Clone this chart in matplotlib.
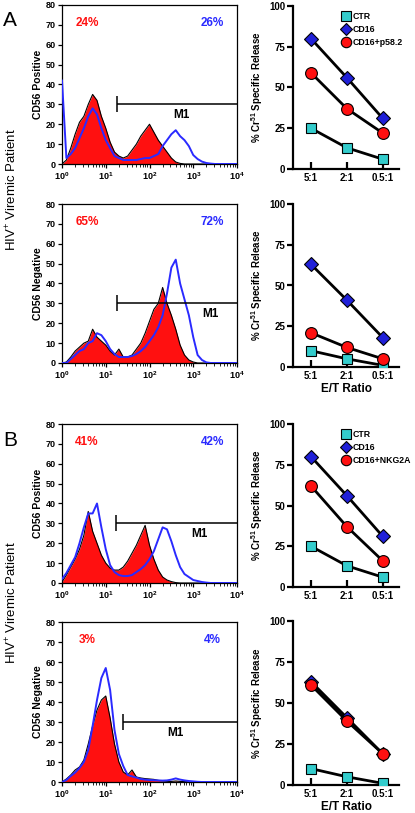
import numpy as np
import matplotlib
matplotlib.use('Agg')
import matplotlib.pyplot as plt
from matplotlib.lines import Line2D
from matplotlib.ticker import FixedLocator, FixedFormatter, LogLocator, NullFormatter

plt.rcParams['font.family'] = ['Liberation Sans', 'DejaVu Sans']
plt.rcParams['mathtext.fontset'] = 'custom'
plt.rcParams['mathtext.rm'] = 'Liberation Sans'
plt.rcParams['mathtext.bf'] = 'Liberation Sans:bold'
plt.rcParams['mathtext.it'] = 'Liberation Sans:italic'

W, H = 415, 813

# ---- flow cytometry histograms: counts every 0.1 decade from 10^0 to 10^4
decades = np.round(np.arange(0, 4.01, 0.1), 2)

# panel A, CD56 positive
a_pos_red = [0, 2, 8, 15, 21, 24, 30, 35, 32, 24, 18, 11, 6, 4, 3, 4, 7, 10, 14, 17, 20,
             16, 12, 9, 6, 3, 1, 0.3, 0, 0, 0, 0, 0, 0, 0, 0, 0, 0, 0, 0, 0]
a_pos_blue = [42, 3, 5, 8, 13, 18, 24, 28, 25, 18, 12, 8, 4, 3, 2, 2, 2, 2, 2.5, 3, 3,
              4, 5, 9, 12, 15, 17, 14, 12, 9, 4.5, 2.5, 1.2, 0.5, 0.2, 0, 0, 0, 0, 0, 0]
# panel A, CD56 negative
a_neg_red = [0, 0.5, 3, 6, 8, 10, 11, 17, 13, 11, 9, 6, 4, 7, 3, 3, 4, 7, 10, 15, 21,
             27, 30, 38, 30, 24, 17, 9, 4, 1.5, 0.5, 0, 0, 0, 0, 0, 0, 0, 0, 0, 0]
a_neg_blue = [0, 0, 2, 4, 6, 7, 10, 11, 15, 14, 11, 7, 4.5, 3, 3, 3, 3.5, 4.5, 6, 8, 11,
              14, 18, 24, 35, 48, 52, 40, 32, 24, 13, 4, 1.5, 0.3, 0, 0, 0, 0, 0, 0, 0]
# panel B, CD56 positive
b_pos_red = [0.5, 4, 8, 12, 17, 24, 36, 26, 20, 14, 10, 7.5, 6.5, 6.5, 8, 11, 15, 19, 24, 29, 19,
             12, 6.5, 3, 1.5, 0.7, 0.2, 0, 0, 0, 0, 0, 0, 0, 0, 0, 0, 0, 0, 0, 0]
b_pos_blue = [2, 5, 9, 13, 20, 28, 35, 35, 40, 28, 17, 9, 5.5, 4, 3.5, 3.5, 4, 5.5, 7, 9, 12,
              16, 22, 28, 27, 21, 14, 8, 4.5, 3, 1.5, 1, 0.5, 0.2, 0, 0, 0, 0, 0, 0, 0]
# panel B, CD56 negative
b_neg_red = [0, 1.5, 3.5, 6, 7.5, 11, 19, 28, 36, 41, 43, 32, 19, 10, 5, 3.5, 6, 2.5, 2, 1.7, 1.5,
             1.3, 0.8, 0.5, 0.3, 0.3, 0.5, 0.3, 0.2, 0.1, 0, 0, 0, 0, 0, 0, 0, 0, 0, 0, 0]
b_neg_blue = [0, 1, 3, 4.7, 7, 10, 16, 28, 41, 52, 57, 46, 26, 14, 8, 3.5, 2.8, 2.2, 1.5, 1.2, 1,
              0.9, 0.8, 0.7, 0.8, 1.2, 1.8, 1.2, 0.8, 0.5, 0.3, 0.1, 0, 0, 0, 0, 0, 0, 0, 0, 0]

hist_pct = [('24%', '26%'), ('65%', '72%'), ('41%', '42%'), ('3%', '4%')]
hist_ylabels = ['CD56 Positive', 'CD56 Negative', 'CD56 Positive', 'CD56 Negative']
m1_start = [10 ** 1.26, 10 ** 1.26, 10 ** 1.23, 10 ** 1.39]
m1_text_x = [10 ** 2.72, 10 ** 3.4, 10 ** 3.14, 10 ** 2.6]

# ---- 51Cr release assays
ratios = ['5:1', '2:1', '0.5:1']
a_top_ctr = [25, 13, 6]
a_top_cd16 = [80, 56, 31]
a_top_mix = [59, 37, 22]
a_bot_ctr = [10, 5, 1]
a_bot_cd16 = [63, 41, 18]
a_bot_mix = [21, 12, 5]
b_top_ctr = [25, 13, 6]
b_top_cd16 = [80, 56, 31]
b_top_mix = [62, 37, 16]
b_bot_ctr = [10, 5, 1]
b_bot_cd16 = [63, 41, 19]
b_bot_mix = [61, 39, 19]
mix_labels = ['CD16+p58.2', 'CD16+NKG2A']

RED = '#ff1010'
BLUE = '#2a2aff'
CYAN = '#33cccc'
DBLUE = '#2020d8'

fig = plt.figure(figsize=(W / 100, H / 100), dpi=100)


def px_axes(l, t, r, b):
    return fig.add_axes([l / W, 1 - b / H, (r - l) / W, (b - t) / H])


def histogram(ax, red, blue, pct, ylab, m1x, m1tx):
    x = 10 ** decades
    ax.fill_between(x, red, color=RED, lw=0, zorder=1)
    ax.plot(x, red, color='black', lw=0.8, zorder=2)
    ax.plot(x, blue, color=BLUE, lw=1.4, zorder=3)
    ax.set_xscale('log')
    ax.set_xlim(1, 1e4)
    ax.set_ylim(0, 80)
    ax.xaxis.set_major_locator(FixedLocator([1, 10, 100, 1000, 10000]))
    ax.xaxis.set_major_formatter(FixedFormatter([r'$\mathbf{10^{%d}}$' % i for i in range(5)]))
    ax.xaxis.set_minor_locator(LogLocator(base=10, subs=np.arange(2, 10)))
    ax.xaxis.set_minor_formatter(NullFormatter())
    ax.set_yticks(range(0, 81, 10))
    ax.tick_params(axis='both', which='major', direction='out', length=3, width=0.9,
                   labelsize=6.5, pad=1.5, top=False, right=False)
    ax.tick_params(axis='x', which='minor', direction='out', length=1.8, width=0.6)
    for lab in ax.get_yticklabels():
        lab.set_fontweight('bold')
    for s in ax.spines.values():
        s.set_linewidth(0.9)
    ax.set_ylabel(ylab, fontsize=7.5, fontweight='bold', labelpad=2)
    ax.text(10 ** 0.57, 71, pct[0], color=RED, fontsize=8.5, fontweight='bold',
            ha='center', va='center')
    ax.text(10 ** 3.43, 71, pct[1], color=BLUE, fontsize=8.5, fontweight='bold',
            ha='center', va='center')
    ax.hlines(30, m1x, 1e4, color='black', lw=1.1, zorder=4)
    ax.vlines(m1x, 26, 34, color='black', lw=1.1, zorder=4)
    ax.text(m1tx, 24.5, 'M1', fontsize=8.5, fontweight='bold', ha='center', va='center')


def release(ax, ctr, cd16, mix, mix_label, legend, xlabel):
    pos = range(len(ratios))
    ax.plot(pos, ctr, color='black', lw=2, marker='s', ms=7, mfc=CYAN, mec='black',
            mew=0.8, zorder=3)
    ax.plot(pos, cd16, color='black', lw=2, marker='D', ms=7, mfc=DBLUE, mec='black',
            mew=0.8, zorder=3)
    ax.plot(pos, mix, color='black', lw=2, marker='o', ms=8.5, mfc=RED, mec='black',
            mew=0.8, zorder=3)
    ax.set_xlim(-0.5, 2.45)
    ax.set_ylim(0, 100)
    ax.set_xticks(list(pos))
    ax.set_xticklabels(ratios, fontweight='bold')
    ax.set_yticks([0, 25, 50, 75, 100])
    ax.set_yticklabels(['0', '25', '50', '75', '100'], fontweight='bold')
    ax.spines['top'].set_visible(False)
    ax.spines['right'].set_visible(False)
    ax.spines['left'].set_linewidth(1.6)
    ax.spines['bottom'].set_linewidth(1.6)
    ax.tick_params(axis='y', direction='out', length=4, width=1.6, labelsize=7, pad=1.5)
    ax.tick_params(axis='x', direction='in', length=5, width=1.6, labelsize=7, pad=3)
    ax.set_ylabel(r'% Cr$^{\mathbf{51}}$ Specific Release', fontsize=7, fontweight='bold',
                  labelpad=3)
    if xlabel:
        ax.set_xlabel('E/T Ratio', fontsize=8.5, fontweight='bold', labelpad=1)
    if legend:
        handles = [Line2D([], [], ls='none', marker='s', ms=6.5, mfc=CYAN, mec='black', mew=0.8),
                   Line2D([], [], ls='none', marker='D', ms=6.5, mfc=DBLUE, mec='black', mew=0.8),
                   Line2D([], [], ls='none', marker='o', ms=7.5, mfc=RED, mec='black', mew=0.8)]
        ax.legend(handles, ['CTR', 'CD16', mix_label], loc='upper left',
                  bbox_to_anchor=(0.41, 1.0), frameon=False, handlelength=0.8,
                  handletextpad=0.35, labelspacing=0.45, borderpad=0.2,
                  prop={'weight': 'bold', 'size': 6.3})


# histogram boxes in pixels (left, top, right, bottom)
hist_boxes = [(62, 5, 237, 164), (62, 204, 237, 363), (62, 424, 237, 583), (62, 622, 237, 782)]
hist_data = [(a_pos_red, a_pos_blue), (a_neg_red, a_neg_blue),
             (b_pos_red, b_pos_blue), (b_neg_red, b_neg_blue)]
for i in range(4):
    ax = px_axes(*hist_boxes[i])
    histogram(ax, hist_data[i][0], hist_data[i][1], hist_pct[i], hist_ylabels[i],
              m1_start[i], m1_text_x[i])

rel_boxes = [(293, 6, 399, 169), (293, 204, 399, 367), (293, 424, 399, 587), (293, 621, 399, 785)]
rel_data = [(a_top_ctr, a_top_cd16, a_top_mix), (a_bot_ctr, a_bot_cd16, a_bot_mix),
            (b_top_ctr, b_top_cd16, b_top_mix), (b_bot_ctr, b_bot_cd16, b_bot_mix)]
for i in range(4):
    ax = px_axes(*rel_boxes[i])
    c, d, m = rel_data[i]
    release(ax, c, d, m, mix_labels[i // 2], legend=(i % 2 == 0), xlabel=(i % 2 == 1))

# panel letters and patient labels
fig.text(3 / W, 1 - 20 / H, 'A', fontsize=15, ha='left', va='center')
fig.text(3 / W, 1 - 440 / H, 'B', fontsize=15, ha='left', va='center')
for yc in (190, 603):
    fig.text(12 / W, 1 - yc / H, r'HIV$^{\mathrm{+}}$ Viremic Patient', fontsize=9.5,
             rotation=90, ha='center', va='center')

fig.savefig('out.png', dpi=100)
